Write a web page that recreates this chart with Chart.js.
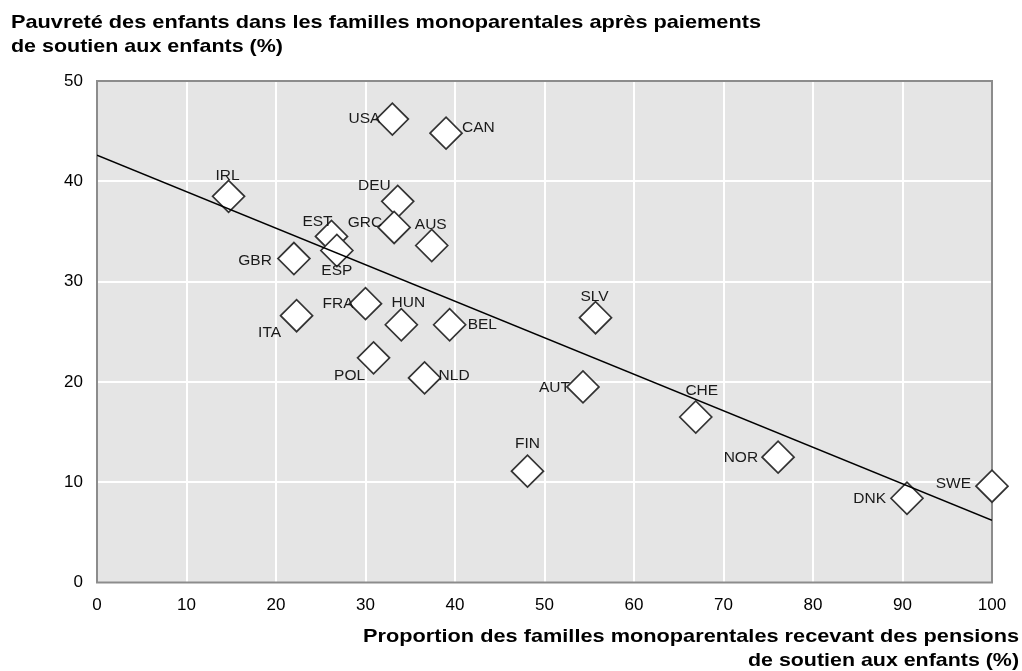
<!DOCTYPE html>
<html><head><meta charset="utf-8">
<script src="https://cdn.jsdelivr.net/npm/chart.js@4/dist/chart.umd.min.js"></script>
<style>html,body{margin:0;padding:0;background:#fff}#wrap{width:1022px;height:671px;position:relative}</style>
</head><body><div id="wrap"><canvas id="c"></canvas></div>
<script>
// ---- data ----
const countries = ['USA','CAN','IRL','DEU','GRC','AUS','EST','ESP','GBR','FRA','HUN','BEL','ITA','POL','NLD','SLV','AUT','CHE','FIN','NOR','DNK','SWE'];
const maintenancePct = [33.0,39.0,14.7,33.6,33.2,37.4,26.2,26.8,22.0,30.0,34.0,39.4,22.3,30.9,36.6,55.7,54.3,66.9,48.1,76.1,90.5,100.0];
const povertyPct = [46.2,44.8,38.5,38.0,35.4,33.6,34.5,33.1,32.3,27.8,25.7,25.7,26.6,22.4,20.4,26.4,19.5,16.5,11.1,12.5,8.4,9.6];
const trendX = [0, 100];
const trendY = [42.6, 6.2];
const xTickValues = [0,10,20,30,40,50,60,70,80,90,100];
const yTickValues = [0,10,20,30,40,50];
const titleLines = ['Pauvreté des enfants dans les familles monoparentales après paiements', 'de soutien aux enfants (%)'];
const xTitleLines = ['Proportion des familles monoparentales recevant des pensions', 'de soutien aux enfants (%)'];

// ---- styles ----
const labelStyle = {
  USA:{dx:-12,dy:0,align:'right'}, CAN:{dx:16,dy:-5,align:'left'}, IRL:{dx:-1,dy:-21,align:'center'},
  DEU:{dx:-7,dy:-16,align:'right'}, GRC:{dx:-12,dy:-5,align:'right'}, AUS:{dx:-1,dy:-21,align:'center'},
  EST:{dx:-14,dy:-15,align:'center'}, ESP:{dx:0,dy:20,align:'center'}, GBR:{dx:-22,dy:2,align:'right'},
  FRA:{dx:-12,dy:0,align:'right'}, HUN:{dx:7,dy:-22,align:'center'}, BEL:{dx:18,dy:0,align:'left'},
  ITA:{dx:-27,dy:17,align:'center'}, POL:{dx:-24,dy:18,align:'center'}, NLD:{dx:14,dy:-2,align:'left'},
  SLV:{dx:-1,dy:-21,align:'center'}, AUT:{dx:-13,dy:1,align:'right'}, CHE:{dx:6,dy:-26,align:'center'},
  FIN:{dx:0,dy:-27,align:'center'}, NOR:{dx:-20,dy:1,align:'right'}, DNK:{dx:-21,dy:0,align:'right'},
  SWE:{dx:-21,dy:-2,align:'right'}
};
const FONT = '"Liberation Sans", Arial, sans-serif';

function fitText(ctx, text, x, y, width, align){
  const w = ctx.measureText(text).width;
  const s = width / w;
  ctx.save();
  const left = align === 'right' ? x - width : x;
  ctx.translate(left, y);
  ctx.scale(s, 1);
  ctx.textAlign = 'left';
  ctx.fillText(text, 0, 0);
  ctx.restore();
}

const decor = {
  id: 'decor',
  beforeDraw(chart){
    const {ctx, chartArea:a} = chart;
    ctx.save();
    ctx.fillStyle = '#e5e5e5';
    ctx.fillRect(a.left, a.top, a.right - a.left, a.bottom - a.top);
    ctx.restore();
  },
  beforeDatasetsDraw(chart){
    const {ctx, chartArea:a} = chart;
    ctx.save();
    ctx.strokeStyle = '#8c8c8c';
    ctx.lineWidth = 2;
    ctx.strokeRect(a.left, a.top, a.right - a.left, a.bottom - a.top);
    ctx.restore();
  },
  afterDraw(chart){
    const {ctx} = chart;
    const xs = chart.scales.x, ys = chart.scales.y;
    ctx.save();
    ctx.fillStyle = '#1a1a1a';
    ctx.font = '15.5px ' + FONT;
    ctx.textBaseline = 'middle';
    countries.forEach((c, i) => {
      const st = labelStyle[c];
      const px = xs.getPixelForValue(maintenancePct[i]);
      const py = ys.getPixelForValue(povertyPct[i]);
      ctx.textAlign = st.align;
      ctx.fillText(c, px + st.dx, py + st.dy);
    });
    ctx.fillStyle = '#000';
    ctx.font = 'bold 18.5px ' + FONT;
    ctx.textBaseline = 'alphabetic';
    fitText(ctx, titleLines[0], 11, 28, 750, 'left');
    fitText(ctx, titleLines[1], 11, 52, 272, 'left');
    fitText(ctx, xTitleLines[0], 1019, 642, 656, 'right');
    fitText(ctx, xTitleLines[1], 1019, 666, 271, 'right');
    ctx.restore();
  }
};

new Chart(document.getElementById('c'), {
  type: 'scatter',
  data: {
    datasets: [
      {
        type: 'line',
        data: trendX.map((x, i) => ({x, y: trendY[i]})),
        borderColor: '#000', borderWidth: 1.6, pointRadius: 0, fill: false, tension: 0, order: 0
      },
      {
        data: maintenancePct.map((x, i) => ({x, y: povertyPct[i]})),
        pointStyle: 'rectRot', pointRadius: 16, pointHoverRadius: 16,
        backgroundColor: '#ffffff', borderColor: '#333333', borderWidth: 1.7, order: 1,
        clip: false
      }
    ]
  },
  options: {
    responsive: true, maintainAspectRatio: false, animation: false,
    events: [],
    layout: { padding: { top: 81, right: 30, left: 0, bottom: 0 } },
    plugins: { legend: { display: false }, tooltip: { enabled: false }, title: { display: false } },
    scales: {
      x: {
        type: 'linear', min: 0, max: 100,
        afterFit(s){ s.height = 88.5; },
        afterBuildTicks(s){ s.ticks = xTickValues.map(v => ({value: v})); },
        ticks: { font: { family: FONT, size: 17 }, color: '#000', padding: 13 },
        grid: { color: '#ffffff', lineWidth: 2, drawTicks: false },
        border: { display: false }
      },
      y: {
        type: 'linear', min: 0, max: 50,
        afterFit(s){ s.width = 97; },
        afterBuildTicks(s){ s.ticks = yTickValues.map(v => ({value: v})); },
        ticks: { font: { family: FONT, size: 17 }, color: '#000', padding: 14 },
        grid: { color: '#ffffff', lineWidth: 2, drawTicks: false },
        border: { display: false }
      }
    }
  },
  plugins: [decor]
});
</script>
</body></html>
